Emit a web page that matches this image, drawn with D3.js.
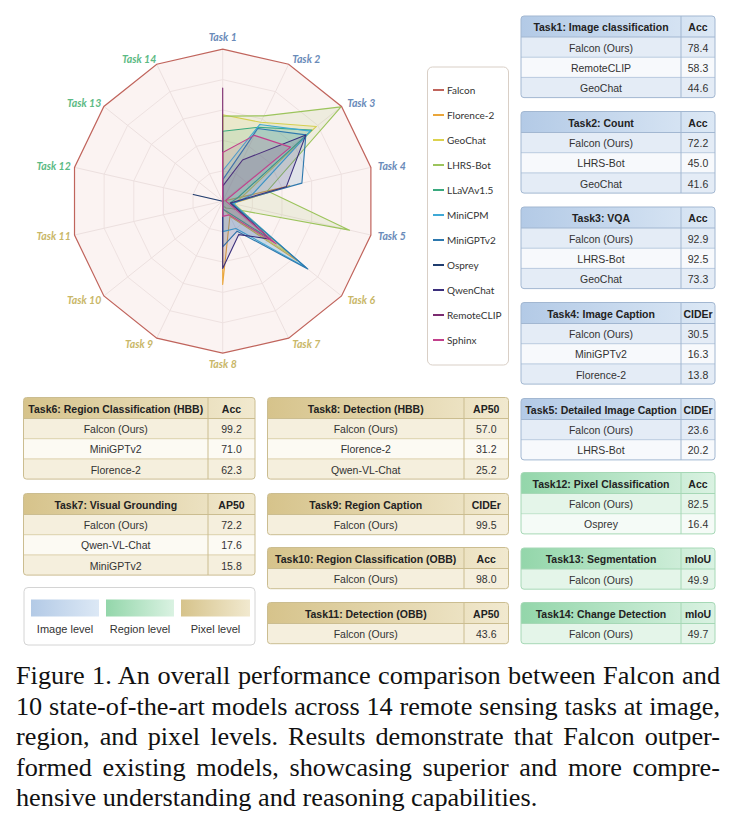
<!DOCTYPE html>
<html><head><meta charset="utf-8">
<script src="https://cdn.jsdelivr.net/npm/d3@7"></script>
<style>
body{margin:0;background:#fff;}
#wrap{position:relative;width:735px;height:835px;overflow:hidden;background:#fff;}
svg{position:absolute;left:0;top:0;}
#caption{position:absolute;left:16px;top:661.3px;width:670.5px;transform:scaleX(1.05);transform-origin:0 0;font-family:"Liberation Serif","Times New Roman",serif;font-size:25px;line-height:30.5px;color:#111;}
#caption div{white-space:nowrap;text-align:justify;text-align-last:justify;}
#caption div.last{text-align-last:left;}
</style></head>
<body><div id="wrap"><svg id="chart" width="735" height="835"></svg><div id="caption"></div></div>
<script>
// ---------- data ----------
const tasks = ["Task 1","Task 2","Task 3","Task 4","Task 5","Task 6","Task 7","Task 8","Task 9","Task 10","Task 11","Task 12","Task 13","Task 14"];
const taskGroup = ["image","image","image","image","image","region","region","region","region","region","region","pixel","pixel","pixel"];
const models = ["Falcon","Florence-2","GeoChat","LHRS-Bot","LLaVAv1.5","MiniCPM","MiniGPTv2","Osprey","QwenChat","RemoteCLIP","Sphinx"];
const modelColors = ["#c0645c","#eaa63a","#dcd24e","#9cc45c","#3aa97e","#3fa9d6","#2d78ae","#1f3c6e","#3b2f7c","#7b2b70","#c2408c"];
// raw scores per task (Task 1..14)
const falconScores     = [78.4, 72.2, 92.9, 30.5, 23.6, 99.2, 72.2, 57.0, 99.5, 98.0, 43.6, 82.5, 49.9, 49.7];
const florence2Scores  = [0, 0, 0, 13.8, 1.6, 62.3, 7.9, 31.2, 0, 0, 0, 0, 0, 0];
const geochatScores    = [44.6, 41.6, 73.3, 4.0, 1.9, 54.6, 7.2, 2.9, 0, 0, 0, 0, 0, 0];
const lhrsbotScores    = [43.9, 45.0, 92.5, 9.2, 20.2, 7.9, 3.6, 1.7, 0, 0, 0, 0, 0, 0];
const llavaScores      = [36.1, 39.0, 69.7, 3.1, 1.2, 39.7, 5.8, 2.9, 0, 0, 0, 0, 0, 0];
const minicpmScores    = [15.7, 40.4, 68.7, 6.1, 1.7, 69.4, 14.4, 11.4, 0, 0, 0, 0, 0, 0];
const minigptv2Scores  = [11.0, 38.3, 65.0, 16.3, 1.4, 71.0, 15.8, 17.1, 0, 0, 0, 0, 0, 0];
const ospreyScores     = [0, 0, 0, 0, 0, 0, 0, 0, 0, 0, 0, 16.4, 0, 0];
const qwenchatScores   = [7.8, 21.7, 65.0, 13.1, 1.2, 39.7, 17.6, 25.2, 0, 0, 0, 0, 0, 0];
const remoteclipScores = [58.3, 0, 0, 0, 0, 0, 0, 0, 0, 0, 0, 0, 0, 0];
const sphinxScores     = [25.1, 34.7, 53.0, 0.6, 0.7, 44.6, 7.2, 5.7, 0, 0, 0, 0, 0, 0];
const allScores = [falconScores, florence2Scores, geochatScores, lhrsbotScores, llavaScores, minicpmScores, minigptv2Scores, ospreyScores, qwenchatScores, remoteclipScores, sphinxScores];

// tables
const tableTitles  = ["Task1: Image classification","Task2: Count","Task3: VQA","Task4: Image Caption","Task5: Detailed Image Caption",
  "Task6: Region Classification (HBB)","Task7: Visual Grounding","Task8: Detection (HBB)","Task9: Region Caption","Task10: Region Classification (OBB)","Task11: Detection (OBB)",
  "Task12: Pixel Classification","Task13: Segmentation","Task14: Change Detection"];
const tableMetrics = ["Acc","Acc","Acc","CIDEr","CIDEr","Acc","AP50","AP50","CIDEr","Acc","AP50","Acc","mIoU","mIoU"];
const tableModels  = [["Falcon (Ours)","RemoteCLIP","GeoChat"],["Falcon (Ours)","LHRS-Bot","GeoChat"],["Falcon (Ours)","LHRS-Bot","GeoChat"],
  ["Falcon (Ours)","MiniGPTv2","Florence-2"],["Falcon (Ours)","LHRS-Bot"],["Falcon (Ours)","MiniGPTv2","Florence-2"],["Falcon (Ours)","Qwen-VL-Chat","MiniGPTv2"],
  ["Falcon (Ours)","Florence-2","Qwen-VL-Chat"],["Falcon (Ours)"],["Falcon (Ours)"],["Falcon (Ours)"],["Falcon (Ours)","Osprey"],["Falcon (Ours)"],["Falcon (Ours)"]];
const tableValues  = [["78.4","58.3","44.6"],["72.2","45.0","41.6"],["92.9","92.5","73.3"],["30.5","16.3","13.8"],["23.6","20.2"],["99.2","71.0","62.3"],
  ["72.2","17.6","15.8"],["57.0","31.2","25.2"],["99.5"],["98.0"],["43.6"],["82.5","16.4"],["49.9"],["49.7"]];
const levelNames = ["Image level","Region level","Pixel level"];
const captionLines = ["Figure 1. An overall performance comparison between Falcon and",
  "10 state-of-the-art models across 14 remote sensing tasks at image,",
  "region, and pixel levels.  Results demonstrate that Falcon outper-",
  "formed existing models, showcasing superior and more compre-",
  "hensive understanding and reasoning capabilities."];

// ---------- styles / layout ----------
const svg = d3.select("#chart");
const defs = svg.append("defs");
const themes = {
  blue:  {h0:"#b3cae6", h1:"#dce8f5", r0:"#e4ecf6", r1:"#f7f9fc", border:"#a2b7d1", sep:"#b9cadf"},
  khaki: {h0:"#d6c38b", h1:"#f1e9cf", r0:"#f5efdd", r1:"#fcfaf3", border:"#cbbd90", sep:"#dcd0ab"},
  green: {h0:"#93d6aa", h1:"#daf2e2", r0:"#e4f5e9", r1:"#f5fbf7", border:"#a6d8b6", sep:"#bfe3ca"}
};
Object.entries(themes).forEach(([k,t])=>{
  const g = defs.append("linearGradient").attr("id","hg-"+k).attr("x1","0").attr("x2","1").attr("y1","0").attr("y2","0");
  g.append("stop").attr("offset","0").attr("stop-color",t.h0);
  g.append("stop").attr("offset","1").attr("stop-color",t.h1);
});

// ---------- radar ----------
const cx = 222.7, cy = 201.2, R = 152, n = tasks.length;
const angle = d3.scaleLinear().domain([0, n]).range([0, 2*Math.PI]);
const rScale = d3.scaleLinear().domain([0, 1]).range([0, R]);
const radar = svg.append("g").attr("transform",`translate(${cx},${cy})`);
const ringLine = d3.lineRadial().angle((d,i)=>angle(i)).radius(d=>rScale(d)).curve(d3.curveLinearClosed);
const norm = allScores.map(s => s.map((v,i)=> v / falconScores[i]));

// Falcon background fill
radar.append("path").attr("d", ringLine(norm[0])).attr("fill","#fbf3f2").attr("stroke","none");
// grid rings
[0.2,0.4,0.6,0.8].forEach(l=>{
  radar.append("path").attr("d", ringLine(d3.range(n).map(()=>l))).attr("fill","none").attr("stroke","#eee2e1").attr("stroke-width",1);
});
// spokes
d3.range(n).forEach(i=>{
  const a = angle(i);
  radar.append("line").attr("x1",0).attr("y1",0)
    .attr("x2", rScale(1)*Math.sin(a)).attr("y2", -rScale(1)*Math.cos(a))
    .attr("stroke","#ece0df").attr("stroke-width",1);
});
// series
norm.forEach((vals, m)=>{
  if (m === 0) return;
  radar.append("path").attr("d", ringLine(vals))
    .attr("fill", modelColors[m]).attr("fill-opacity", 0.13)
    .attr("stroke", modelColors[m]).attr("stroke-width", 1.1).attr("stroke-linejoin","round");
});
// Falcon outline
radar.append("path").attr("d", ringLine(norm[0])).attr("fill","none").attr("stroke",modelColors[0]).attr("stroke-width",1.2);

// axis labels
const labelColor = {image:"#6a8bb9", region:"#c9b768", pixel:"#5cba84"};
tasks.forEach((t,i)=>{
  const a = angle(i), s = Math.sin(a), c = Math.cos(a);
  let x = (R+6)*s + (Math.abs(s) > 0.1 ? 15*Math.sign(s) : 0);
  let y = -(R+6)*c + (c > 0.95 ? -6 : c < -0.95 ? 5 : 0);
  radar.append("text").attr("x",x).attr("y",y).attr("text-anchor","middle").attr("dominant-baseline","central")
    .attr("font-family","Lato, 'Open Sans', sans-serif").attr("font-style","italic").attr("font-weight",700)
    .attr("font-size",10.5).attr("fill",labelColor[taskGroup[i]]).text(t);
});

// model legend
const lg = svg.append("g");
lg.append("rect").attr("x",427.5).attr("y",67).attr("width",81).attr("height",298).attr("rx",5)
  .attr("fill","#fff").attr("stroke","#d9cfc6").attr("stroke-width",1);
models.forEach((m,i)=>{
  const y = 90 + 25*i;
  lg.append("line").attr("x1",433).attr("x2",444).attr("y1",y).attr("y2",y).attr("stroke",modelColors[i]).attr("stroke-width",2);
  lg.append("text").attr("x",447).attr("y",y).attr("dominant-baseline","central")
    .attr("font-family","Lato, sans-serif").attr("font-size",10).attr("fill","#333").text(m);
});

// ---------- tables ----------
const tableLayout = [
  {x:521,w:194,div:681,y:16,t:"blue"},{x:521,w:194,div:681,y:111.5,t:"blue"},{x:521,w:194,div:681,y:207,t:"blue"},
  {x:521,w:194,div:681,y:302.5,t:"blue"},{x:521,w:194,div:681,y:398.5,t:"blue"},
  {x:23.5,w:231.5,div:208,y:397.5,t:"khaki"},{x:23.5,w:231.5,div:208,y:493.5,t:"khaki"},
  {x:267.5,w:241,div:464,y:397.5,t:"khaki"},{x:267.5,w:241,div:464,y:493.5,t:"khaki"},
  {x:267.5,w:241,div:464,y:547.5,t:"khaki"},{x:267.5,w:241,div:464,y:602.5,t:"khaki"},
  {x:521,w:194,div:681,y:472.5,t:"green"},{x:521,w:194,div:681,y:548,t:"green"},{x:521,w:194,div:681,y:602.5,t:"green"}
];
const HH = 21, RH = 20.2;
tableTitles.forEach((title, k)=>{
  const L = tableLayout[k], th = themes[L.t];
  const rows = tableModels[k];
  const H = HH + RH*rows.length;
  const g = svg.append("g");
  const clipId = "clip"+k;
  defs.append("clipPath").attr("id",clipId).append("rect").attr("x",L.x).attr("y",L.y).attr("width",L.w).attr("height",H).attr("rx",3);
  const inner = g.append("g").attr("clip-path",`url(#${clipId})`);
  inner.append("rect").attr("x",L.x).attr("y",L.y).attr("width",L.w).attr("height",HH).attr("fill",`url(#hg-${L.t})`);
  rows.forEach((r,j)=>{
    inner.append("rect").attr("x",L.x).attr("y",L.y+HH+RH*j).attr("width",L.w).attr("height",RH).attr("fill", j%2===0 ? th.r0 : th.r1);
    if (j>0) inner.append("line").attr("x1",L.x).attr("x2",L.x+L.w).attr("y1",L.y+HH+RH*j).attr("y2",L.y+HH+RH*j).attr("stroke",th.sep);
  });
  inner.append("line").attr("x1",L.x).attr("x2",L.x+L.w).attr("y1",L.y+HH).attr("y2",L.y+HH).attr("stroke",th.border);
  inner.append("line").attr("x1",L.div).attr("x2",L.div).attr("y1",L.y).attr("y2",L.y+H).attr("stroke",th.border);
  g.append("rect").attr("x",L.x).attr("y",L.y).attr("width",L.w).attr("height",H).attr("rx",3).attr("fill","none").attr("stroke",th.border);
  const c1 = (L.x + L.div)/2, c2 = (L.div + L.x + L.w)/2;
  const font = "'Liberation Sans', Arial, sans-serif";
  g.append("text").attr("x",c1).attr("y",L.y+HH/2+0.5).attr("text-anchor","middle").attr("dominant-baseline","central")
    .attr("font-family",font).attr("font-weight",700).attr("font-size",10.5).attr("fill","#222").text(title);
  g.append("text").attr("x",c2).attr("y",L.y+HH/2+0.5).attr("text-anchor","middle").attr("dominant-baseline","central")
    .attr("font-family",font).attr("font-weight",700).attr("font-size",10.5).attr("fill","#222").text(tableMetrics[k]);
  rows.forEach((r,j)=>{
    const y = L.y+HH+RH*j+RH/2+0.5;
    g.append("text").attr("x",c1).attr("y",y).attr("text-anchor","middle").attr("dominant-baseline","central")
      .attr("font-family",font).attr("font-size",10.5).attr("fill","#333").text(r);
    g.append("text").attr("x",c2).attr("y",y).attr("text-anchor","middle").attr("dominant-baseline","central")
      .attr("font-family",font).attr("font-size",10.5).attr("fill","#333").text(tableValues[k][j]);
  });
});

// level legend
const levelThemes = ["blue","green","khaki"];
const sw = [[31,99],[106,174],[181,250]];
svg.append("rect").attr("x",24).attr("y",587.5).attr("width",231).attr("height",57.5).attr("rx",4)
  .attr("fill","#fff").attr("stroke","#d4d4d4");
levelNames.forEach((nm,i)=>{
  const t = themes[levelThemes[i]];
  const gid = "lv"+i;
  const g = defs.append("linearGradient").attr("id",gid).attr("x1","0").attr("x2","1");
  g.append("stop").attr("offset","0").attr("stop-color",t.h0);
  g.append("stop").attr("offset","1").attr("stop-color",t.h1);
  svg.append("rect").attr("x",sw[i][0]).attr("y",599.5).attr("width",sw[i][1]-sw[i][0]).attr("height",17).attr("fill",`url(#${gid})`);
  svg.append("text").attr("x",(sw[i][0]+sw[i][1])/2).attr("y",628.5).attr("text-anchor","middle").attr("dominant-baseline","central")
    .attr("font-family","'Liberation Sans', Arial, sans-serif").attr("font-size",11).attr("fill","#333").text(nm);
});

// caption
d3.select("#caption").selectAll("div").data(captionLines).enter().append("div")
  .attr("class",(d,i)=> i===captionLines.length-1 ? "last" : null).text(d=>d);
</script>
</body></html>
